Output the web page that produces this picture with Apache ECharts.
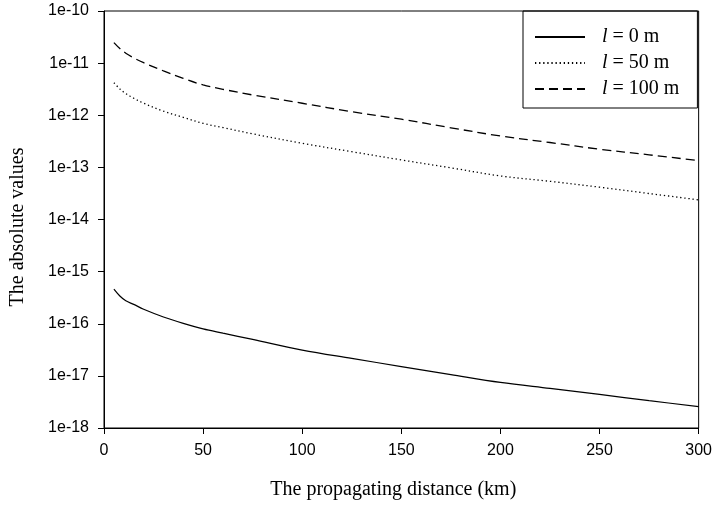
<!DOCTYPE html>
<html>
<head>
<meta charset="utf-8">
<script src="https://cdn.jsdelivr.net/npm/echarts@6/dist/echarts.min.js"></script>
<style>html,body{margin:0;padding:0;background:#fff}#c{width:715px;height:505px}</style>
</head>
<body>
<div id="c"></div>
<script>
const distance = [5, 8, 11, 15, 20, 30, 40, 50, 60, 75, 100, 125, 150, 175, 200, 225, 250, 275, 300];
const l0 = [4.6e-16, 3.4e-16, 2.75e-16, 2.35e-16, 1.9e-16, 1.35e-16, 1.02e-16, 7.97e-17, 6.6e-17, 5.0e-17, 3.12e-17, 2.16e-17, 1.51e-17, 1.06e-17, 7.5e-18, 5.75e-18, 4.4e-18, 3.35e-18, 2.57e-18];
const l50 = [4.2e-12, 3.2e-12, 2.6e-12, 2.12e-12, 1.7e-12, 1.2e-12, 9.1e-13, 7.0e-13, 5.8e-13, 4.4e-13, 2.9e-13, 2.0e-13, 1.39e-13, 9.8e-14, 6.85e-14, 5.4e-14, 4.17e-14, 3.15e-14, 2.38e-14];
const l100 = [2.47e-11, 1.9e-11, 1.55e-11, 1.26e-11, 1.02e-11, 7.1e-12, 5.1e-12, 3.81e-12, 3.15e-12, 2.45e-12, 1.70e-12, 1.17e-12, 8.4e-13, 5.75e-13, 4.0e-13, 3.0e-13, 2.23e-13, 1.74e-13, 1.35e-13];
const seriesNames = ['l = 0 m', 'l = 50 m', 'l = 100 m'];
const legendRest = [' = 0 m', ' = 50 m', ' = 100 m'];
const xTicks = [0, 50, 100, 150, 200, 250, 300];

const pairs = arr => distance.map((x, i) => [x, arr[i]]);
const serif = 'Liberation Serif';
const sans = 'Liberation Sans';

const chart = echarts.init(document.getElementById('c'), null, {renderer: 'canvas'});
chart.setOption({
  animation: false,
  backgroundColor: '#fff',
  color: ['#000', '#000', '#000'],
  grid: {left: 103, right: 15, top: 11, bottom: 77, show: true, borderColor: '#000', borderWidth: 1},
  xAxis: {
    type: 'value', min: xTicks[0], max: xTicks[xTicks.length - 1], interval: 50,
    name: 'The propagating distance (km)', nameLocation: 'middle', nameGap: 52,
    nameTextStyle: {fontFamily: serif, fontSize: 20, color: '#000', padding: [0, 16, 0, 0]},
    axisLine: {show: true, lineStyle: {color: '#000', width: 1}},
    axisTick: {show: true, length: 6, lineStyle: {color: '#000'}},
    axisLabel: {margin: 15, fontFamily: sans, fontSize: 16, color: '#000'},
    splitLine: {show: false}
  },
  yAxis: {
    type: 'log', logBase: 10, min: 1e-18, max: 1e-10, interval: 1,
    name: 'The absolute values', nameLocation: 'middle', nameGap: 76, nameRotate: 90,
    nameTextStyle: {fontFamily: serif, fontSize: 20, color: '#000', padding: [0, 15, 0, 0]},
    axisLine: {show: true, lineStyle: {color: '#000', width: 1}},
    axisTick: {show: true, length: 6, lineStyle: {color: '#000'}},
    axisLabel: {margin: 15, fontFamily: sans, fontSize: 16, color: '#000',
      formatter: v => '1e' + Math.round(Math.log10(v))},
    splitLine: {show: false},
    minorTick: {show: false}
  },
  legend: {
    left: 523, top: 11, orient: 'vertical',
    borderColor: '#000', borderWidth: 1, borderRadius: 0,
    padding: [16, 18, 9, 11], itemGap: 6, itemWidth: 50, itemHeight: 20,
    data: seriesNames,
    itemStyle: {opacity: 0},
    formatter: name => '{i|l}{n|' + legendRest[seriesNames.indexOf(name)] + '}',
    textStyle: {
      fontFamily: serif, fontSize: 20, color: '#000', lineHeight: 20,
      rich: {
        i: {fontFamily: serif, fontSize: 20, fontStyle: 'italic', color: '#000', padding: [0, 0, 0, 12]},
        n: {fontFamily: serif, fontSize: 20, color: '#000'}
      }
    }
  },
  series: [
    {name: seriesNames[0], type: 'line', data: pairs(l0), symbol: 'none', smooth: 0.35,
     itemStyle: {color: '#000'}, lineStyle: {color: '#000', width: 1.2, type: 'solid'}},
    {name: seriesNames[1], type: 'line', data: pairs(l50), symbol: 'none', smooth: 0.35,
     itemStyle: {color: '#000'}, lineStyle: {color: '#000', width: 1.3, type: [1.3, 2.8]}},
    {name: seriesNames[2], type: 'line', data: pairs(l100), symbol: 'none', smooth: 0.35,
     itemStyle: {color: '#000'}, lineStyle: {color: '#000', width: 1.3, type: [9, 5]}}
  ]
});
</script>
</body>
</html>
